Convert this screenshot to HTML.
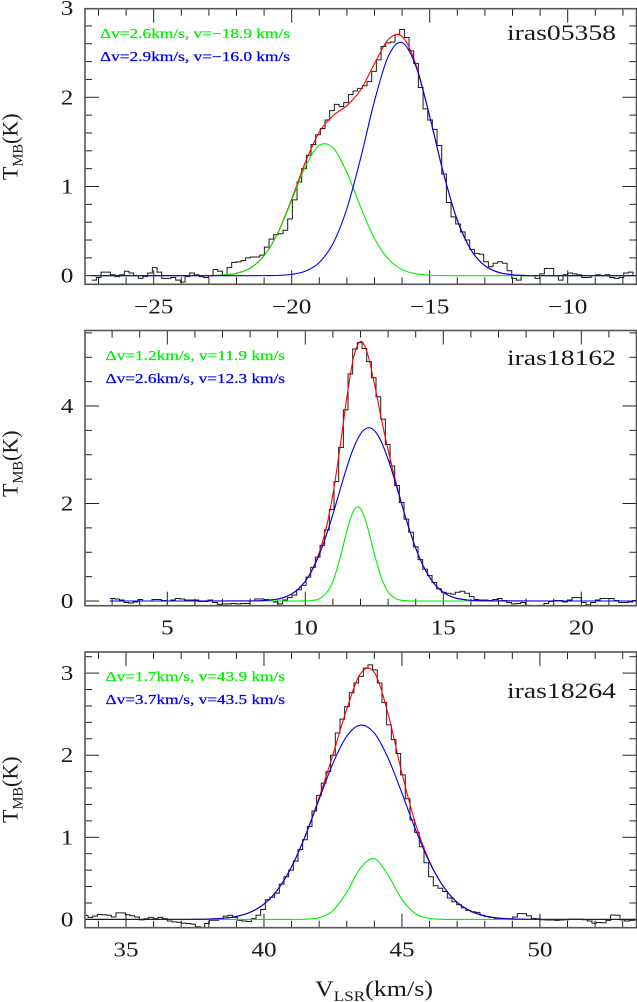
<!DOCTYPE html>
<html lang="en">
<head>
<meta charset="utf-8">
<title>Spectral line fits</title>
<style>
  html, body { margin: 0; padding: 0; background: #fff; }
  body { width: 637px; height: 1002px; overflow: hidden; }
  svg { display: block; }
  text { font-family: "Liberation Serif", "DejaVu Serif", serif; fill: #1a1a1a; }
</style>
</head>
<body>
<svg id="chart" xmlns="http://www.w3.org/2000/svg" width="637" height="1002" viewBox="0 0 637 1002">
  <g id="panel-1"></g>
  <g id="panel-2"></g>
  <g id="panel-3"></g>

  <text x="507" y="40" font-size="22" textLength="109" lengthAdjust="spacingAndGlyphs">iras05358</text>
  <text x="100" y="38" font-size="13.5" textLength="190" lengthAdjust="spacingAndGlyphs" style="fill:#00f000;stroke:#00f000;stroke-width:.25">Δv=2.6km/s, v=−18.9 km/s</text>
  <text x="100" y="61" font-size="13.5" textLength="190" lengthAdjust="spacingAndGlyphs" style="fill:#0000f0;stroke:#0000f0;stroke-width:.25">Δv=2.9km/s, v=−16.0 km/s</text>

  <text x="507" y="365" font-size="22" textLength="109" lengthAdjust="spacingAndGlyphs">iras18162</text>
  <text x="105.5" y="360" font-size="13.5" textLength="179.5" lengthAdjust="spacingAndGlyphs" style="fill:#00f000;stroke:#00f000;stroke-width:.25">Δv=1.2km/s, v=11.9 km/s</text>
  <text x="105.5" y="383" font-size="13.5" textLength="179.5" lengthAdjust="spacingAndGlyphs" style="fill:#0000f0;stroke:#0000f0;stroke-width:.25">Δv=2.6km/s, v=12.3 km/s</text>

  <text x="507" y="698" font-size="22" textLength="109" lengthAdjust="spacingAndGlyphs">iras18264</text>
  <text x="105.5" y="681" font-size="13.5" textLength="179.5" lengthAdjust="spacingAndGlyphs" style="fill:#00f000;stroke:#00f000;stroke-width:.25">Δv=1.7km/s, v=43.9 km/s</text>
  <text x="105.5" y="704" font-size="13.5" textLength="179.5" lengthAdjust="spacingAndGlyphs" style="fill:#0000f0;stroke:#0000f0;stroke-width:.25">Δv=3.7km/s, v=43.5 km/s</text>

  <text transform="translate(17.5,180) rotate(-90)" font-size="22">T<tspan font-size="14.5" dy="5">MB</tspan><tspan dy="-5">(K)</tspan></text>
  <text transform="translate(17.5,497) rotate(-90)" font-size="22">T<tspan font-size="14.5" dy="5">MB</tspan><tspan dy="-5">(K)</tspan></text>
  <text transform="translate(17.5,823) rotate(-90)" font-size="22">T<tspan font-size="14.5" dy="5">MB</tspan><tspan dy="-5">(K)</tspan></text>

  <text x="315" y="996" font-size="22" textLength="118" lengthAdjust="spacingAndGlyphs">V<tspan font-size="14.5" dy="5">LSR</tspan><tspan dy="-5">(km/s)</tspan></text>
</svg>

<script>
// ---------- iras05358 ----------
const panel1XTicks = [-25, -20, -15, -10];
const panel1YTicks = [0, 1, 2, 3];
const panel1ChannelStart = -27.247;
const panel1ChannelWidth = 0.1691;
const panel1Spectrum = [-.05,-.02,.04,.04,.01,-.01,.01,.05,.03,0,-.03,-.01,.03,.09,.04,-.03,-.03,-.02,-.05,-.07,-.01,.03,.01,-.01,-.02,0,.07,.05,.01,.09,.15,.155,.17,.20,.21,.21,.23,.32,.41,.46,.47,.51,.635,.85,1.05,1.20,1.35,1.47,1.58,1.65,1.745,1.85,1.92,1.895,1.94,2.03,2.07,2.10,2.13,2.175,2.29,2.42,2.57,2.61,2.62,2.705,2.76,2.67,2.52,2.38,2.11,1.87,1.745,1.64,1.46,1.14,.82,.66,.58,.49,.40,.295,.25,.24,.157,.10,.14,.157,.14,.056,-.03,-.05,0,0,0,-.03,.02,.08,.08,0,-.05,.01,.03,.02,.01,-.02,-.02,0,.01,0,.01,-.02,-.03,-.02,.03,.04,0];
const panel1FitVelocity = [-27.25,-23,-22.5,-22,-21.5,-21,-20.5,-20,-19.5,-19,-18.5,-18,-17.5,-17,-16.5,-16,-15.5,-15,-14.5,-14,-13.5,-13,-12.5,-12,-11.5,-11,-7.63];
const panel1Green = [0,.0015,.0069,.0268,.0852,.2227,.478,.844,1.225,1.461,1.432,1.155,.765,.417,.187,.0687,.0208,.0052,.0011,.0002,0,0,0,0,0,0,0];
const panel1Blue = [0,0,0,0,.0001,.0008,.0037,.0149,.051,.148,.362,.752,1.319,1.959,2.460,2.613,2.347,1.784,1.147,.623,.287,.112,.037,.0102,.0024,.0005,0];
const panel1Red = [0,.0015,.0069,.0268,.0853,.2235,.4817,.859,1.276,1.609,1.794,1.907,2.084,2.376,2.647,2.682,2.368,1.789,1.148,.623,.287,.112,.037,.0102,.0024,.0005,0];

// ---------- iras18162 ----------
const panel2XTicks = [5, 10, 15, 20];
const panel2YTicks = [0, 2, 4];
const panel2ChannelStart = 2.924;
const panel2ChannelWidth = 0.1691;
const panel2Spectrum = [.05,.04,.02,-.03,-.04,-.02,.03,0,0,.03,.03,.01,0,.02,.05,.04,.02,.02,.02,-.01,-.01,.02,-.03,-.07,-.06,-.06,-.05,-.06,-.05,-.05,0,.04,.04,.03,0,-.02,-.06,.02,.07,.12,.23,.32,.49,.69,.90,1.14,1.46,1.88,2.45,3.15,3.92,4.66,5.17,5.30,5.18,4.91,4.58,4.19,3.73,3.21,2.77,2.37,2.02,1.68,1.41,1.11,.85,.65,.52,.38,.25,.18,.16,.14,.18,.20,.16,.09,.03,.02,.02,.01,.03,.05,.01,-.03,-.06,-.05,-.03,-.09,-.10,-.10,-.09,-.05,-.01,.01,.01,-.02,.02,.07,.07,-.03,-.08,-.03,.02,.05,.05,.05,.01,-.03,-.03,-.02,.01,0];
const panel2FitVelocity = [2.92,8,8.5,9,9.25,9.5,9.75,10,10.25,10.5,10.75,11,11.25,11.5,11.75,12,12.25,12.5,12.75,13,13.25,13.5,13.75,14,14.25,14.5,14.75,15,15.25,15.5,16,16.5,17,22];
const panel2Green = [0,0,0,0,0,0,.0002,.0019,.0103,.0444,.152,.407,.858,1.422,1.853,1.898,1.528,.968,.482,.188,.058,.014,.0027,.0004,0,0,0,0,0,0,0,0,0,0];
const panel2Blue = [0,.0018,.0095,.0408,.0784,.1426,.247,.406,.634,.942,1.328,1.778,2.263,2.735,3.141,3.427,3.552,3.498,3.273,2.909,2.456,1.969,1.502,1.087,.747,.489,.303,.179,.100,.053,.0129,.0026,.0004,0];
const panel2Red = [0,.0018,.0095,.0408,.0784,.1426,.2472,.408,.644,.986,1.480,2.185,3.121,4.157,4.994,5.325,5.080,4.466,3.755,3.097,2.514,1.983,1.505,1.087,.747,.489,.303,.179,.100,.053,.0129,.0026,.0004,0];

// ---------- iras18264 ----------
const panel3XTicks = [35, 40, 45, 50];
const panel3YTicks = [0, 1, 2, 3];
const panel3ChannelStart = 33.454;
const panel3ChannelWidth = 0.1691;
const panel3Spectrum = [.05,.025,.04,.06,.057,.05,.03,.08,.08,.057,.045,.03,-.005,.01,.025,.01,.025,.01,-.02,-.03,-.035,-.045,-.05,-.057,-.09,-.097,-.05,-.01,-.01,0,.04,.05,.025,-.01,-.02,-.025,.01,.05,.12,.24,.27,.32,.43,.52,.60,.71,.85,.97,1.13,1.32,1.51,1.66,1.80,2.00,2.27,2.44,2.59,2.76,2.88,2.96,3.06,3.10,3.04,2.88,2.64,2.37,2.19,2.02,1.76,1.47,1.21,1.06,.885,.69,.52,.41,.38,.34,.26,.215,.18,.14,.11,.093,.085,.05,.036,.024,.012,.008,.004,.004,.03,.07,.07,.045,.012,.008,-.004,-.008,-.008,-.012,-.008,-.004,.004,.004,.004,-.004,-.02,-.045,-.037,-.04,-.012,.053,.05,-.005,-.02,-.012,-.008];
const panel3FitVelocity = [33.45,37,37.5,38,38.5,39,39.5,40,40.5,41,41.5,42,42.5,43,43.5,44,44.5,45,45.5,46,46.5,47,47.5,48,48.5,49,49.5,50,54];
const panel3Green = [0,0,0,0,0,0,0,0,0,.0002,.0027,.0216,.107,.330,.627,.739,.538,.243,.068,.0117,.0012,.0001,0,0,0,0,0,0,0];
const panel3Blue = [0,.0004,.0015,.0047,.0138,.0364,.0868,.187,.364,.641,1.019,1.464,1.901,2.231,2.367,2.268,1.964,1.537,1.087,.695,.401,.209,.099,.042,.0162,.0057,.0018,.0005,0];
const panel3Red = [0,.0004,.0015,.0047,.0138,.0364,.0868,.187,.364,.641,1.022,1.486,2.008,2.561,2.994,3.007,2.502,1.780,1.155,.707,.402,.209,.099,.042,.016,.006,.002,.0005,0];

const NS = 'http://www.w3.org/2000/svg';
function make(tag, attrs, parent) {
  const e = document.createElementNS(NS, tag);
  for (const k in attrs) e.setAttribute(k, attrs[k]);
  parent.appendChild(e);
  return e;
}

function fitPath(vs, ts, sx, sy) {
  const xs = vs.map(sx), ys = ts.map(sy);
  const n = xs.length;
  const m = [];
  for (let i = 0; i < n; i++) {
    const a = Math.max(0, i - 1), b = Math.min(n - 1, i + 1);
    m.push((ys[b] - ys[a]) / (xs[b] - xs[a]));
  }
  let d = 'M' + xs[0].toFixed(2) + ' ' + ys[0].toFixed(2);
  for (let i = 0; i < n - 1; i++) {
    const dx = (xs[i + 1] - xs[i]) / 3;
    d += 'C' + (xs[i] + dx).toFixed(2) + ' ' + (ys[i] + m[i] * dx).toFixed(2) + ' ' +
         (xs[i + 1] - dx).toFixed(2) + ' ' + (ys[i + 1] - m[i + 1] * dx).toFixed(2) + ' ' +
         xs[i + 1].toFixed(2) + ' ' + ys[i + 1].toFixed(2);
  }
  return d;
}

function stepPath(start, width, values, sx, sy) {
  let d = '';
  values.forEach(function (t, i) {
    const x0 = sx(start + i * width), x1 = sx(start + (i + 1) * width), y = sy(t);
    d += (i === 0 ? 'M' : 'L') + x0.toFixed(2) + ' ' + y.toFixed(2) + 'L' + x1.toFixed(2) + ' ' + y.toFixed(2);
  });
  return d;
}

function drawPanel(cfg) {
  const g = document.getElementById(cfg.id);
  const L = 85, R = 636.5, T = cfg.top, B = cfg.bottom;
  const sx = function (v) { return L + (v - cfg.xMin) / (cfg.xMax - cfg.xMin) * (R - L); };
  const sy = function (t) { return B - (t - cfg.yMin) / (cfg.yMax - cfg.yMin) * (B - T); };

  const clip = make('clipPath', { id: cfg.id + '-clip' }, g);
  make('rect', { x: L, y: T, width: R - L, height: B - T }, clip);

  // x ticks
  for (let v = Math.ceil(cfg.xMin); v <= cfg.xMax; v++) {
    const major = v % 5 === 0;
    const len = major ? 14 : 7;
    const bottomTick = make('line', { x1: sx(v), x2: sx(v), y1: B, y2: B - len, stroke: '#222', 'stroke-width': 1 }, g);
    
    
    const topTick = make('line', { x1: sx(v), x2: sx(v), y1: T, y2: T + len, stroke: '#222', 'stroke-width': 1 }, g);
    
    
  }
  // y ticks
  const nMinor = Math.floor((cfg.yMax + 1e-6) / cfg.yMinor);
  for (let k = 0; k <= nMinor; k++) {
    const t = k * cfg.yMinor;
    const major = Math.abs(t / cfg.yMajor - Math.round(t / cfg.yMajor)) < 1e-6;
    const len = major ? 14 : 7;
    const leftTick = make('line', { x1: L, x2: L + len, y1: sy(t), y2: sy(t), stroke: '#222', 'stroke-width': 1 }, g);
    
    
    const rightTick = make('line', { x1: R, x2: R - len, y1: sy(t), y2: sy(t), stroke: '#222', 'stroke-width': 1 }, g);
    
    
  }

  // spectrum
  const hist = make('path', { d: stepPath(cfg.start, cfg.width, cfg.spectrum, sx, sy), fill: 'none', stroke: '#1a1a1a', 'stroke-width': 1, 'clip-path': 'url(#' + cfg.id + '-clip)' }, g);
  
  

  // fits
  const red = make('path', { d: fitPath(cfg.fitV, cfg.red, sx, sy), fill: 'none', stroke: '#ff0000', 'stroke-width': 1.1, 'clip-path': 'url(#' + cfg.id + '-clip)' }, g);
  
  
  const green = make('path', { d: fitPath(cfg.fitV, cfg.green, sx, sy), fill: 'none', stroke: '#00ee00', 'stroke-width': 1.1, 'clip-path': 'url(#' + cfg.id + '-clip)' }, g);
  
  
  const blue = make('path', { d: fitPath(cfg.fitV, cfg.blue, sx, sy), fill: 'none', stroke: '#0000ee', 'stroke-width': 1.1, 'clip-path': 'url(#' + cfg.id + '-clip)' }, g);
  
  

  // frame
  const frame = make('rect', { x: L, y: T, width: R - L, height: B - T, fill: 'none', stroke: '#555', 'stroke-width': 1.6 }, g);
  
  

  // tick labels
  cfg.xTicks.forEach(function (v) {
    const label = make('text', { transform: 'translate(' + sx(v).toFixed(2) + ',' + (B + 29) + ') scale(1.2,1)', 'text-anchor': 'middle', 'font-size': 21 }, g);
    label.textContent = String(v).replace('-', '\u2212');
    
    
  });
  cfg.yTicks.forEach(function (t) {
    const label = make('text', { transform: 'translate(67,' + (sy(t) + 7).toFixed(2) + ') scale(1.2,1)', 'text-anchor': 'middle', 'font-size': 21 }, g);
    label.textContent = String(t);
    
    
  });
}

drawPanel({ id: 'panel-1', top: 8.7, bottom: 284.3, xMin: -27.489, xMax: -7.507, yMin: -0.0964, yMax: 2.993, yMinor: 0.2, yMajor: 1,
  xTicks: panel1XTicks, yTicks: panel1YTicks, start: panel1ChannelStart, width: panel1ChannelWidth, spectrum: panel1Spectrum,
  fitV: panel1FitVelocity, green: panel1Green, blue: panel1Blue, red: panel1Red });
drawPanel({ id: 'panel-2', top: 330.5, bottom: 605.7, xMin: 2.018, xMax: 22.0, yMin: -0.0964, yMax: 5.549, yMinor: 0.5, yMajor: 2,
  xTicks: panel2XTicks, yTicks: panel2YTicks, start: panel2ChannelStart, width: panel2ChannelWidth, spectrum: panel2Spectrum,
  fitV: panel2FitVelocity, green: panel2Green, blue: panel2Blue, red: panel2Red });
drawPanel({ id: 'panel-3', top: 652, bottom: 927.7, xMin: 33.514, xMax: 53.5, yMin: -0.101, yMax: 3.257, yMinor: 0.2, yMajor: 1,
  xTicks: panel3XTicks, yTicks: panel3YTicks, start: panel3ChannelStart, width: panel3ChannelWidth, spectrum: panel3Spectrum,
  fitV: panel3FitVelocity, green: panel3Green, blue: panel3Blue, red: panel3Red });
</script>
</body>
</html>
